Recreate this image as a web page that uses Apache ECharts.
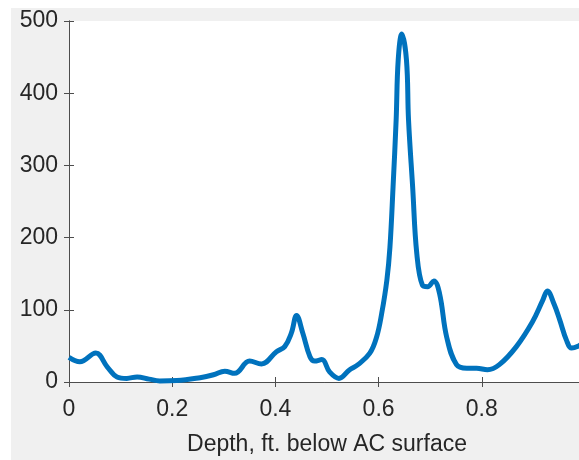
<!DOCTYPE html>
<html>
<head>
<meta charset="utf-8">
<script src="https://cdn.jsdelivr.net/npm/echarts@6/dist/echarts.min.js"></script>
<style>
  html, body { margin: 0; padding: 0; background: #ffffff; }
  #chart { position: absolute; left: 11px; top: 8px; width: 568px; height: 452px; }
</style>
</head>
<body>
<div id="chart"></div>
<script>
const depth = [0, 0.021, 0.052, 0.074, 0.093, 0.112, 0.132, 0.155, 0.176, 0.209, 0.254, 0.280, 0.302, 0.321,
  0.350, 0.373, 0.402, 0.418, 0.431, 0.441, 0.453, 0.467, 0.476, 0.490, 0.505, 0.523, 0.544, 0.560,
  0.583, 0.596, 0.606, 0.616, 0.622, 0.628, 0.634, 0.638, 0.645, 0.654, 0.658, 0.666, 0.674, 0.685, 0.695,
  0.707, 0.718, 0.732, 0.751, 0.771, 0.790, 0.811, 0.834, 0.867, 0.898, 0.918, 0.927, 0.940, 0.951,
  0.964, 0.974, 0.985, 1.0];
const values = [34, 28, 40, 21, 7, 5, 7, 4, 1.5, 2, 6, 10, 15, 12,
  29, 25, 42, 49, 68, 92, 68, 35, 29, 31, 14, 5, 17, 24,
  40, 62, 95, 141, 187, 270, 363, 446, 482, 446, 363, 270, 178, 134, 132,
  140, 123, 62, 24, 19, 19, 17, 24, 49, 83, 113, 126, 108, 86,
  58, 47, 49, 56];
const xTicks = [0, 0.2, 0.4, 0.6, 0.8, 1];
const yTicks = [0, 100, 200, 300, 400, 500];

const chart = echarts.init(document.getElementById('chart'));

const axisColor = '#4d4d4d';
const textColor = '#262626';
const font = 'Liberation Sans, Arial, sans-serif';

const option = {
  backgroundColor: '#f0f0f0',
  animation: false,
  grid: {
    left: 58,
    top: 13,
    width: 516,
    height: 361,
    outerBoundsMode: 'none',
    containLabel: false,
    show: true,
    backgroundColor: '#ffffff',
    borderWidth: 0
  },
  xAxis: [
    {
      type: 'value',
      min: xTicks[0],
      max: xTicks[xTicks.length - 1],
      interval: 0.2,
      position: 'bottom',
      name: 'Depth, ft. below AC surface',
      nameLocation: 'middle',
      nameGap: 51,
      nameTextStyle: { color: textColor, fontSize: 23, fontFamily: font },
      axisLine: { show: true, lineStyle: { color: axisColor, width: 1 } },
      axisTick: { show: true, inside: true, length: 5, lineStyle: { color: axisColor } },
      axisLabel: {
        color: textColor, fontSize: 23, fontFamily: font, margin: 16,
        formatter: v => String(Math.round(v * 10) / 10)
      },
      splitLine: { show: false }
    },
    {
      type: 'value',
      min: xTicks[0],
      max: xTicks[xTicks.length - 1],
      interval: 0.2,
      position: 'top',
      axisLine: { show: true, lineStyle: { color: axisColor, width: 1 } },
      axisTick: { show: true, inside: true, length: 5, lineStyle: { color: axisColor } },
      axisLabel: { show: false },
      splitLine: { show: false }
    }
  ],
  yAxis: [
    {
      type: 'value',
      min: yTicks[0],
      max: yTicks[yTicks.length - 1],
      interval: 100,
      position: 'left',
      axisLine: { show: true, lineStyle: { color: axisColor, width: 1 } },
      axisTick: { show: true, inside: true, length: 5, lineStyle: { color: axisColor } },
      axisLabel: { color: textColor, fontSize: 23, fontFamily: font, margin: 11 },
      splitLine: { show: false }
    },
    {
      type: 'value',
      min: yTicks[0],
      max: yTicks[yTicks.length - 1],
      interval: 100,
      position: 'right',
      axisLine: { show: true, lineStyle: { color: axisColor, width: 1 } },
      axisTick: { show: true, inside: true, length: 5, lineStyle: { color: axisColor } },
      axisLabel: { show: false },
      splitLine: { show: false }
    }
  ],
  series: [
    {
      type: 'line',
      xAxisIndex: 0,
      yAxisIndex: 0,
      data: depth.map((d, i) => [d, values[i]]),
      smooth: 0.4,
      showSymbol: false,
      lineStyle: { color: '#0072BD', width: 5 },
      itemStyle: { color: '#0072BD' }
    }
  ]
};

chart.setOption(option);
</script>
</body>
</html>
